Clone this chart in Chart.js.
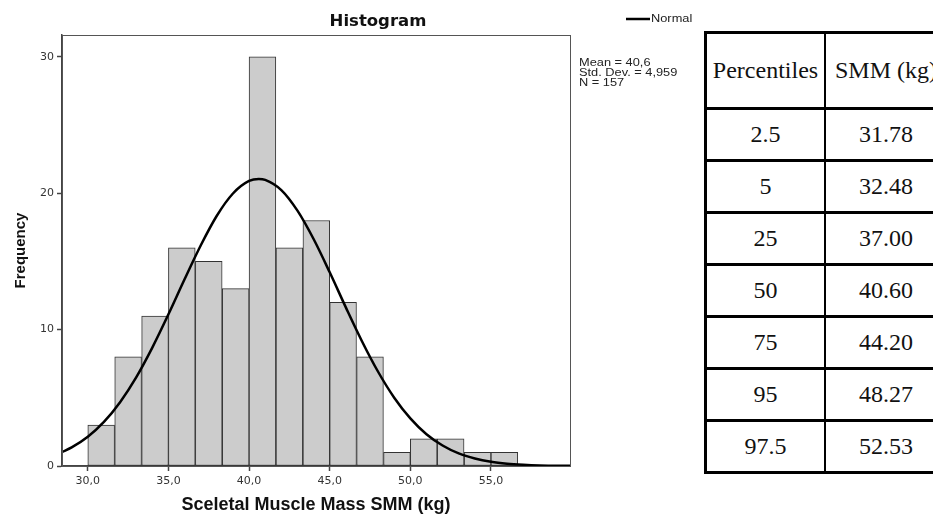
<!DOCTYPE html>
<html>
<head>
<meta charset="utf-8">
<script src="https://cdn.jsdelivr.net/npm/chart.js@4.4.1/dist/chart.umd.min.js"></script>
<style>
  body { margin: 0; background: #fff; width: 933px; height: 516px; overflow: hidden; position: relative; }
  #wrap { position: absolute; left: 0; top: 0; width: 700px; height: 516px; }
  table {
    position: absolute; left: 704px; top: 31px; width: 242px;
    border-collapse: collapse; table-layout: fixed;
    font-family: "Liberation Serif", "Times New Roman", serif; font-size: 24px; color: #111;
  }
  td { text-align: center; padding: 0; border-top: 3px solid #000; border-bottom: 3px solid #000; height: 49px; }
  td:first-child { border-left: 3px solid #000; border-right: 2px solid #000; width: 117px; }
  tr.head td { height: 73px; }
</style>
</head>
<body>
<div id="wrap"><canvas id="hist"></canvas></div>
<table id="tab"></table>
<script>
// histogram bins (centres) and counts
const binMid = [30.83, 32.5, 34.17, 35.83, 37.5, 39.17, 40.83, 42.5, 44.17, 45.83, 47.5, 49.17, 50.83, 52.5, 54.17, 55.83];
const counts = [3, 8, 11, 16, 15, 13, 30, 16, 18, 12, 8, 1, 2, 2, 1, 1];

// normal curve
const curveX = [28.4, 29, 30, 31, 32, 33, 34, 35, 36, 37, 38, 39, 40, 40.6, 41, 42, 43, 44, 45, 46, 47, 48, 49, 50, 51, 52, 53, 54, 55, 56, 57, 58, 59, 59.9];
const curveY = [1.02, 1.36, 2.14, 3.23, 4.68, 6.50, 8.68, 11.12, 13.69, 16.17, 18.35, 19.98, 20.90, 21.05, 20.98, 20.23, 18.72, 16.64, 14.20, 11.63, 9.15, 6.91, 5.01, 3.49, 2.33, 1.50, 0.92, 0.55, 0.31, 0.17, 0.09, 0.04, 0.02, 0.01];

const xTicks = [30, 35, 40, 45, 50, 55];
const yTicks = [0, 10, 20, 30];
const statsLines = ['Mean = 40,6', 'Std. Dev. = 4,959', 'N = 157'];

// table
const percentiles = ['2.5', '5', '25', '50', '75', '95', '97.5'];
const smmValues = ['31.78', '32.48', '37.00', '40.60', '44.20', '48.27', '52.53'];

const tab = document.getElementById('tab');
let html = '<tr class="head"><td>Percentiles</td><td>SMM (kg)</td></tr>';
for (let i = 0; i < percentiles.length; i++) {
  html += '<tr><td>' + percentiles[i] + '</td><td>' + smmValues[i] + '</td></tr>';
}
tab.innerHTML = html;

// stretched text like the original export
function wideText(ctx, text, x, y, sx) {
  ctx.save();
  ctx.translate(x, y);
  ctx.scale(sx, 1);
  ctx.fillText(text, 0, 0);
  ctx.restore();
}

const extras = {
  id: 'extras',
  afterDraw(chart) {
    const { ctx, chartArea: a } = chart;
    ctx.save();
    // plot frame
    ctx.strokeStyle = '#555';
    ctx.lineWidth = 1;
    ctx.strokeRect(a.left + 0.5, a.top + 0.5, a.right - a.left, a.bottom - a.top);

    // title
    ctx.fillStyle = '#111';
    ctx.font = 'bold 16.5px "DejaVu Sans"';
    ctx.textAlign = 'center';
    ctx.textBaseline = 'middle';
    ctx.fillText('Histogram', a.right - 192, 22);

    // legend
    ctx.strokeStyle = '#000';
    ctx.lineWidth = 2.5;
    ctx.beginPath();
    ctx.moveTo(626, 19);
    ctx.lineTo(650, 19);
    ctx.stroke();
    ctx.font = '10px "Liberation Sans"';
    ctx.textAlign = 'left';
    ctx.fillStyle = '#222';
    wideText(ctx, 'Normal', 651, 19.5, 1.28);

    // stats
    statsLines.forEach((t, i) => wideText(ctx, t, a.right + 9, 63 + i * 10, 1.28));
    ctx.restore();
  }
};

const ctx = document.getElementById('hist').getContext('2d');
const chart = new Chart(ctx, {
  type: 'bar',
  data: {
    datasets: [{
      type: 'line',
      label: 'Normal',
      data: curveX.map((x, i) => ({ x: x, y: curveY[i] })),
      borderColor: '#000',
      borderWidth: 2.5,
      pointRadius: 0,
      cubicInterpolationMode: 'monotone',
      order: 0
    }, {
      type: 'bar',
      label: 'Frequency',
      data: binMid.map((x, i) => ({ x: x, y: counts[i] })),
      backgroundColor: '#cccccc',
      borderColor: '#333',
      borderWidth: 1,
      borderSkipped: false,
      barPercentage: 1,
      categoryPercentage: 1,
      order: 1
    }]
  },
  options: {
    responsive: true,
    maintainAspectRatio: false,
    animation: false,
    layout: { padding: { top: 35, right: 130, left: 0, bottom: 0 } },
    plugins: { legend: { display: false }, tooltip: { enabled: false } },
    scales: {
      x: {
        type: 'linear',
        min: 28.4,
        max: 59.9,
        offset: false,
        afterBuildTicks: s => { s.ticks = xTicks.map(v => ({ value: v })); },
        afterFit: s => { s.height = 50; },
        grid: { drawOnChartArea: false, offset: false, tickLength: 5, color: '#444', tickWidth: 1.5 },
        border: { color: '#444', width: 1.5 },
        ticks: {
          callback: v => v.toFixed(1).replace('.', ','),
          font: { family: 'DejaVu Sans', size: 11 },
          color: '#333',
          padding: 4,
          maxRotation: 0,
          autoSkip: false
        },
        title: {
          display: true,
          text: 'Sceletal Muscle Mass SMM (kg)',
          font: { family: 'Liberation Sans', size: 18, weight: 'bold' },
          color: '#111',
          padding: { top: 0, bottom: 0 }
        }
      },
      y: {
        min: 0,
        max: 31.6,
        afterBuildTicks: s => { s.ticks = yTicks.map(v => ({ value: v })); },
        afterFit: s => { s.width = 62; },
        grid: { drawOnChartArea: false, tickLength: 5, color: '#444', tickWidth: 1.5 },
        border: { color: '#444', width: 1.5 },
        ticks: { font: { family: 'DejaVu Sans', size: 11 }, color: '#333', padding: 3 },
        title: {
          display: true,
          text: 'Frequency',
          font: { family: 'Liberation Sans', size: 15, weight: 'bold' },
          color: '#111',
          padding: { top: 12, bottom: 0 }
        }
      }
    }
  },
  plugins: [extras]
});
</script>
</body>
</html>
